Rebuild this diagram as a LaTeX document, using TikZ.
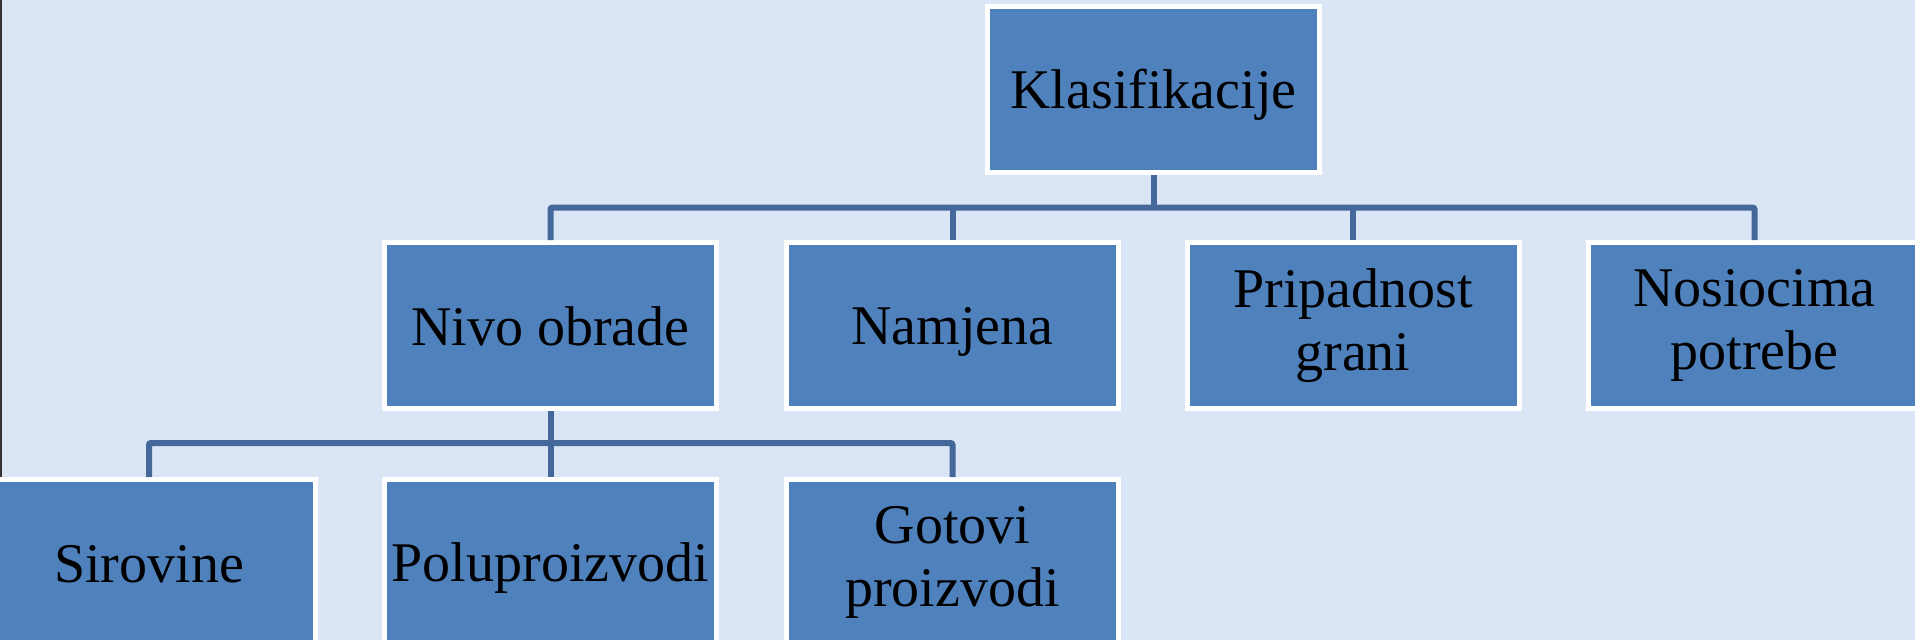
\documentclass[tikz,border=0pt]{standalone}
\usepackage{fontspec}
\setmainfont{Liberation Serif}
\definecolor{bgblue}{RGB}{218,230,245}
\definecolor{boxblue}{RGB}{79,129,189}
\definecolor{linkblue}{RGB}{68,104,154}
\tikzset{
  box/.style={draw=white, line width=5pt, fill=boxblue, minimum width=332pt,
    minimum height=166pt, inner sep=0pt, align=center, text=black,
    font=\fontsize{56}{63.3}\selectfont,
    execute at begin node={\rule{0pt}{50pt}},
    execute at end node={\rule[-10pt]{0pt}{10pt}}},
  link/.style={draw=linkblue, line width=6pt, rounded corners=2pt}
}
\begin{document}
\begin{tikzpicture}[x=1pt,y=-1pt]
\useasboundingbox (0,0) rectangle (1915,640);
\clip (0,0) rectangle (1915,640);
\fill[bgblue] (0,0) rectangle (1915,640);
\draw[black!80, line width=2pt] (1,0) -- (1,477);
% nodes
\node[box] (klas) at (1153.5,89.5) {Klasifikacije};
\node[box] (nivo) at (550.5,325.5) {Nivo obrade};
\node[box] (namj) at (952.5,325.5) {Namjena};
\node[box] (prip) at (1353,325.5) {Pripadnost\\grani};
\node[box] (nos) at (1754.5,325.5) {Nosiocima\\potrebe};
\node[box] (sir) at (149,562.5) {Sirovine};
\node[box] (polu) at (550.5,562.5) {Poluproizvodi};
\node[box] (got) at (952.5,562.5) {Gotovi\\proizvodi};
% junctions
\coordinate (j1) at (1153.5,207.5);
\coordinate (j2) at (550.5,443);
% connectors
\draw[link] (klas.south) -- (j1);
\draw[link] (nivo.north) |- (nos.north |- j1) -- (nos.north);
\draw[link] (namj.north) -- (namj.north |- j1);
\draw[link] (prip.north) -- (prip.north |- j1);
\draw[link] (nivo.south) -- (polu.north);
\draw[link] (sir.north) |- (got.north |- j2) -- (got.north);
\end{tikzpicture}
\end{document}
